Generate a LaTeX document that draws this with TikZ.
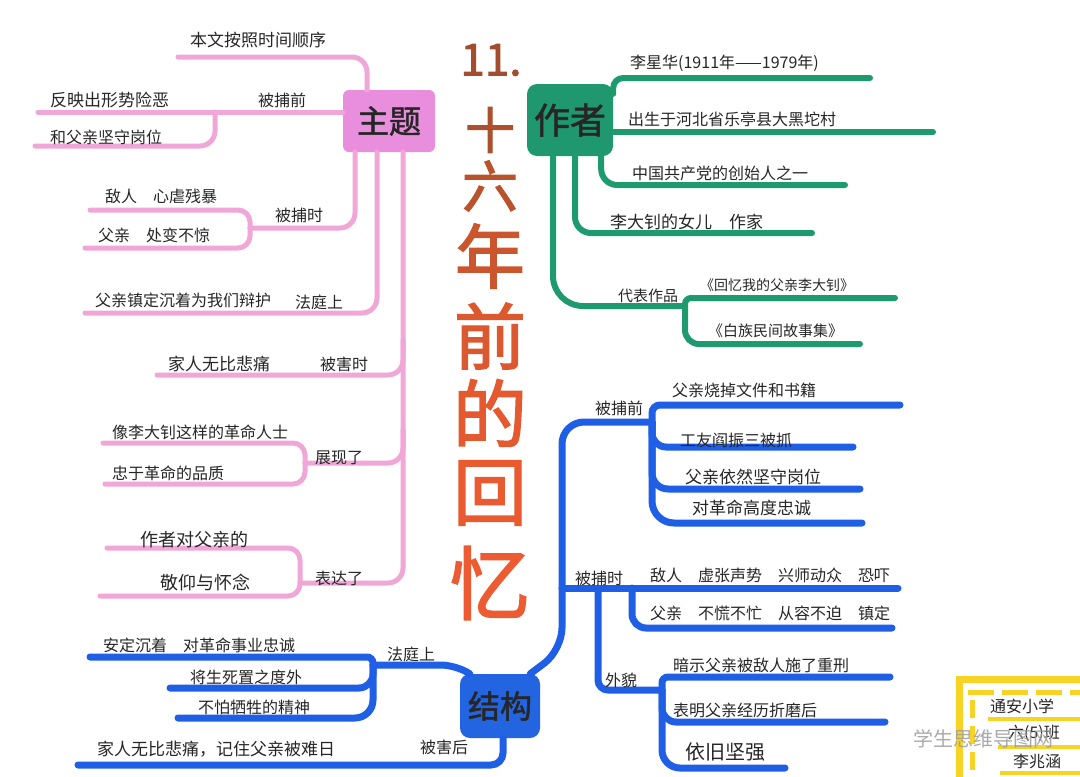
\documentclass[tikz,border=0pt]{standalone}
\usepackage{fontspec}
\setmainfont{Noto Sans CJK SC}
\newfontfamily\titlefont{Noto Sans CJK SC}[FakeBold=2]
\newfontfamily\boxfont{Noto Sans CJK SC}[FakeBold=1.5]
\definecolor{lpink}{HTML}{F1A6D8}
\definecolor{bpink}{HTML}{E98DDD}
\definecolor{lgreen}{HTML}{1E9B6E}
\definecolor{bgreen}{HTML}{1F9870}
\definecolor{lblue}{HTML}{1E5FE6}
\definecolor{bblue}{HTML}{2364E0}
\definecolor{lyellow}{HTML}{F7D424}
\definecolor{tA}{HTML}{A24E2E}
\definecolor{tB}{HTML}{AC512D}
\definecolor{tC}{HTML}{B8532C}
\definecolor{tD}{HTML}{CB562D}
\definecolor{tE}{HTML}{DC582E}
\definecolor{tF}{HTML}{E4592F}
\definecolor{tG}{HTML}{E95A30}
\definecolor{tH}{HTML}{EC5B31}
\definecolor{wmark}{HTML}{9C9C9C}
\begin{document}
\begin{tikzpicture}[x=1pt,y=-1pt,
  pinkline/.style={draw=lpink,line width=5pt,line cap=round,rounded corners=15pt},
  greenline/.style={draw=lgreen,line width=6pt,line cap=round,rounded corners=16pt},
  blueline/.style={draw=lblue,line width=7pt,line cap=round,rounded corners=16pt},
  yline/.style={draw=lyellow,line width=5pt},
  txt/.style={font=\fontsize{16}{18}\selectfont,inner sep=0pt,anchor=west,text=black!85},
  tchar/.style={font=\titlefont\fontsize{#1}{#1}\selectfont,inner sep=0pt},
  mainbox/.style={rounded corners=6pt,inner sep=0pt,font=\boxfont\fontsize{32}{34}\selectfont,text=black!85}
]
\fill[white] (0,0) rectangle (1080,777);
\useasboundingbox (0,0) rectangle (1080,777);

% ---------------- pink: 主题 ----------------
\node[mainbox,fill=bpink,minimum width=92pt,minimum height=62pt] (zt) at (389,121) {主题};
\coordinate (p1e) at (178,57);
\coordinate (p2e) at (38,112);
\coordinate (p2f) at (215,112);
\coordinate (p2g) at (35,146);
\coordinate (p3f) at (250,228);
\coordinate (p3a) at (90,210);
\coordinate (p3b) at (85,248);
\coordinate (p4e) at (85,313);
\coordinate (p5e) at (157,375);
\coordinate (p6f) at (305,463);
\coordinate (p6a) at (103,443);
\coordinate (p6b) at (105,484);
\coordinate (p7f) at (300,583);
\coordinate (p7a) at (107,548);
\coordinate (p7b) at (100,596);
\draw[pinkline] ([xshift=-22pt]zt.north) |- (p1e);
\draw[pinkline] ([yshift=9pt]zt.west) -- (p2e);
\draw[pinkline] (p2f) |- (p2g);
\draw[pinkline] ([xshift=-34pt]zt.south) |- (p3f);
\draw[pinkline,rounded corners=12pt] (p3f) |- (p3a);
\draw[pinkline,rounded corners=12pt] (p3f) |- (p3b);
\draw[pinkline] ([xshift=-12pt]zt.south) |- (p4e);
\draw[pinkline] ([xshift=14pt]zt.south) |- (p7f);
\draw[pinkline] (403,340) |- (p5e);
\draw[pinkline] (403,430) |- (p6f);
\draw[pinkline,rounded corners=12pt] (p6f) |- (p6a);
\draw[pinkline,rounded corners=12pt] (p6f) |- (p6b);
\draw[pinkline,rounded corners=12pt] (p7f) |- (p7a);
\draw[pinkline,rounded corners=12pt] (p7f) |- (p7b);

\node[txt,font=\fontsize{17}{19}\selectfont] (q1) at (190,40) {本文按照时间顺序};
\node[txt,font=\fontsize{17}{19}\selectfont] (q2) at (50,100) {反映出形势险恶};
\node[txt] (q2l) at (258,100) {被捕前};
\node[txt] (q2b) at (50,137) {和父亲坚守岗位};
\node[txt] (q3a) at (105,196) {敌人\quad 心虐残暴};
\node[txt] (q3b) at (98,235) {父亲\quad 处变不惊};
\node[txt] (q3l) at (275,215) {被捕时};
\node[txt] (q4) at (95,300) {父亲镇定沉着为我们辩护};
\node[txt] (q4l) at (295,302) {法庭上};
\node[txt,font=\fontsize{17}{19}\selectfont] (q5) at (168,364) {家人无比悲痛};
\node[txt] (q5l) at (320,364) {被害时};
\node[txt] (q6a) at (112,432) {像李大钊这样的革命人士};
\node[txt] (q6b) at (112,473) {忠于革命的品质};
\node[txt] (q6l) at (315,458) {展现了};
\node[txt,font=\fontsize{18}{20}\selectfont] (q7a) at (140,540) {作者对父亲的};
\node[txt,font=\fontsize{18}{20}\selectfont] (q7b) at (160,583) {敬仰与怀念};
\node[txt] (q7l) at (315,578) {表达了};

% ---------------- green: 作者 ----------------
\node[mainbox,fill=bgreen,minimum width=86pt,minimum height=72pt,rounded corners=10pt,font=\boxfont\fontsize{36}{38}\selectfont] (zz) at (570,120) {作者};
\coordinate (g1e) at (870,78);
\coordinate (g2e) at (933,132);
\coordinate (g3e) at (845,185);
\coordinate (g4e) at (812,233);
\coordinate (g5f) at (685,306);
\coordinate (g5a) at (895,298);
\coordinate (g5b) at (860,344);
\draw[greenline,rounded corners=10pt] ([yshift=-10pt]zz.north east) |- (g1e);
\draw[greenline] ([yshift=-12pt]zz.east) -- (g2e);
\draw[greenline] ([xshift=-12pt]zz.south east) |- (g3e);
\draw[greenline] ([xshift=5pt]zz.south) |- (g4e);
\draw[greenline,rounded corners=30pt] ([xshift=-17pt]zz.south) |- (g5f);
\draw[greenline,rounded corners=6pt] (g5f) |- (g5a);
\draw[greenline,rounded corners=14pt] (g5f) |- (g5b);
\node[txt] (r1) at (630,63) {李星华(1911年——1979年)};
\node[txt] (r2) at (628,119) {出生于河北省乐亭县大黑坨村};
\node[txt] (r3) at (632,173) {中国共产党的创始人之一};
\node[txt,font=\fontsize{17}{19}\selectfont] (r4) at (610,222) {李大钊的女儿\quad 作家};
\node[txt,font=\fontsize{15}{17}\selectfont] (r5) at (618,296) {代表作品};
\node[txt,font=\fontsize{14}{16}\selectfont] (r5a) at (700,285) {《回忆我的父亲李大钊》};
\node[txt,font=\fontsize{15}{17}\selectfont] (r5b) at (708,331) {《白族民间故事集》};

% ---------------- blue: 结构 ----------------
\node[mainbox,fill=bblue,minimum width=80pt,minimum height=64pt,rounded corners=10pt] (jg) at (500,706) {结构};
\coordinate (b1f) at (652,422);
\coordinate (b1a) at (900,405);
\coordinate (b1b) at (853,447);
\coordinate (b1c) at (860,489);
\coordinate (b1d) at (862,523);
\coordinate (b2s) at (562,588);
\coordinate (b2e) at (898,588);
\coordinate (b2b) at (892,628);
\coordinate (b3f) at (662,690);
\coordinate (b3a) at (890,677);
\coordinate (b3b) at (885,722);
\coordinate (b3c) at (785,768);
\coordinate (b4f) at (373,665);
\coordinate (b4a) at (90,657);
\coordinate (b4b) at (170,688);
\coordinate (b4c) at (178,718);
\coordinate (b5e) at (78,765);
\draw[blueline,rounded corners=22pt] ([xshift=-10pt]jg.north east) -- (562,650) -- (562,422) -- (b1f);
\draw[blueline,rounded corners=8pt] (b1f) |- (b1a);
\draw[blueline,rounded corners=14pt] (b1f) |- (b1b);
\draw[blueline,rounded corners=16pt] (b1f) |- (b1c);
\draw[blueline,rounded corners=22pt] (b1f) |- (b1d);
\draw[blueline] (b2s) -- (b2e);
\draw[blueline,rounded corners=14pt] (632,588) |- (b2b);
\draw[blueline,rounded corners=10pt] (598,588) |- (b3f);
\draw[blueline,rounded corners=6pt] (b3f) |- (b3a);
\draw[blueline,rounded corners=14pt] (b3f) |- (b3b);
\draw[blueline,rounded corners=18pt] (b3f) |- (b3c);
\draw[blueline,rounded corners=14pt] ([xshift=10pt]jg.north west) -- (455,665) -- (b4f);
\draw[blueline,rounded corners=6pt] (b4f) |- (b4a);
\draw[blueline,rounded corners=14pt] (b4f) |- (b4b);
\draw[blueline,rounded corners=18pt] (b4f) |- (b4c);
\draw[blueline,rounded corners=12pt] ([xshift=3pt]jg.south) |- (b5e);

\node[txt] (s1) at (595,408) {被捕前};
\node[txt] (s1a) at (672,390) {父亲烧掉文件和书籍};
\node[txt] (s1b) at (680,440) {工友阎振三被抓};
\node[txt,font=\fontsize{17}{19}\selectfont] (s1c) at (685,477) {父亲依然坚守岗位};
\node[txt,font=\fontsize{17}{19}\selectfont] (s1d) at (692,508) {对革命高度忠诚};
\node[txt] (s2) at (575,578) {被捕时};
\node[txt] (s2a) at (650,575) {敌人\quad 虚张声势\quad 兴师动众\quad 恐吓};
\node[txt] (s2b) at (650,613) {父亲\quad 不慌不忙\quad 从容不迫\quad 镇定};
\node[txt] (s3) at (605,680) {外貌};
\node[txt] (s3a) at (673,665) {暗示父亲被敌人施了重刑};
\node[txt] (s3b) at (673,710) {表明父亲经历折磨后};
\node[txt,font=\fontsize{20}{22}\selectfont] (s3c) at (685,752) {依旧坚强};
\node[txt] (s4) at (387,654) {法庭上};
\node[txt] (s4a) at (103,645) {安定沉着\quad 对革命事业忠诚};
\node[txt] (s4b) at (190,677) {将生死置之度外};
\node[txt] (s4c) at (198,707) {不怕牺牲的精神};
\node[txt] (s5) at (420,747) {被害后};
\node[txt,font=\fontsize{17}{19}\selectfont] (s5a) at (97,749) {家人无比悲痛，记住父亲被难日};

% ---------------- title ----------------
\node[tchar=44,text=tA] (t0) at (491,60) {11.};
\node[tchar=50,text=tB] (t1) at (490,130) {十};
\node[tchar=56,text=tC] (t2) at (490,186) {六};
\node[tchar=70,text=tD] (t3) at (490,256) {年};
\node[tchar=72,text=tE] (t4) at (490,336) {前};
\node[tchar=74,text=tF] (t5) at (490,413) {的};
\node[tchar=74,text=tG] (t6) at (490,493) {回};
\node[tchar=80,text=tH] (t7) at (490,583) {忆};

% ---------------- signature box ----------------
\draw[yline,line width=7pt] (959,777) -- (959,679) -- (1080,679);
\draw[yline,dashed,dash pattern=on 18pt off 8pt] (972,700) -- (972,777);
\draw[yline,dashed,dash pattern=on 26pt off 8pt] (968,692) -- (1080,692);
\draw[yline,line width=4pt] (988,719) -- (1080,719);
\draw[yline,line width=4pt] (998,747) -- (1080,747);
\draw[yline,line width=4pt] (1000,773) -- (1080,773);
\node[txt] (u1) at (990,706) {通安小学};
\node[txt] (u2) at (1008,733) {六(5)班};
\node[txt] (u3) at (1013,761) {李兆涵};
\node[txt,font=\fontsize{20}{22}\selectfont,text=wmark,opacity=0.85] (wm) at (913,739) {学生思维导图网};
\end{tikzpicture}
\end{document}
